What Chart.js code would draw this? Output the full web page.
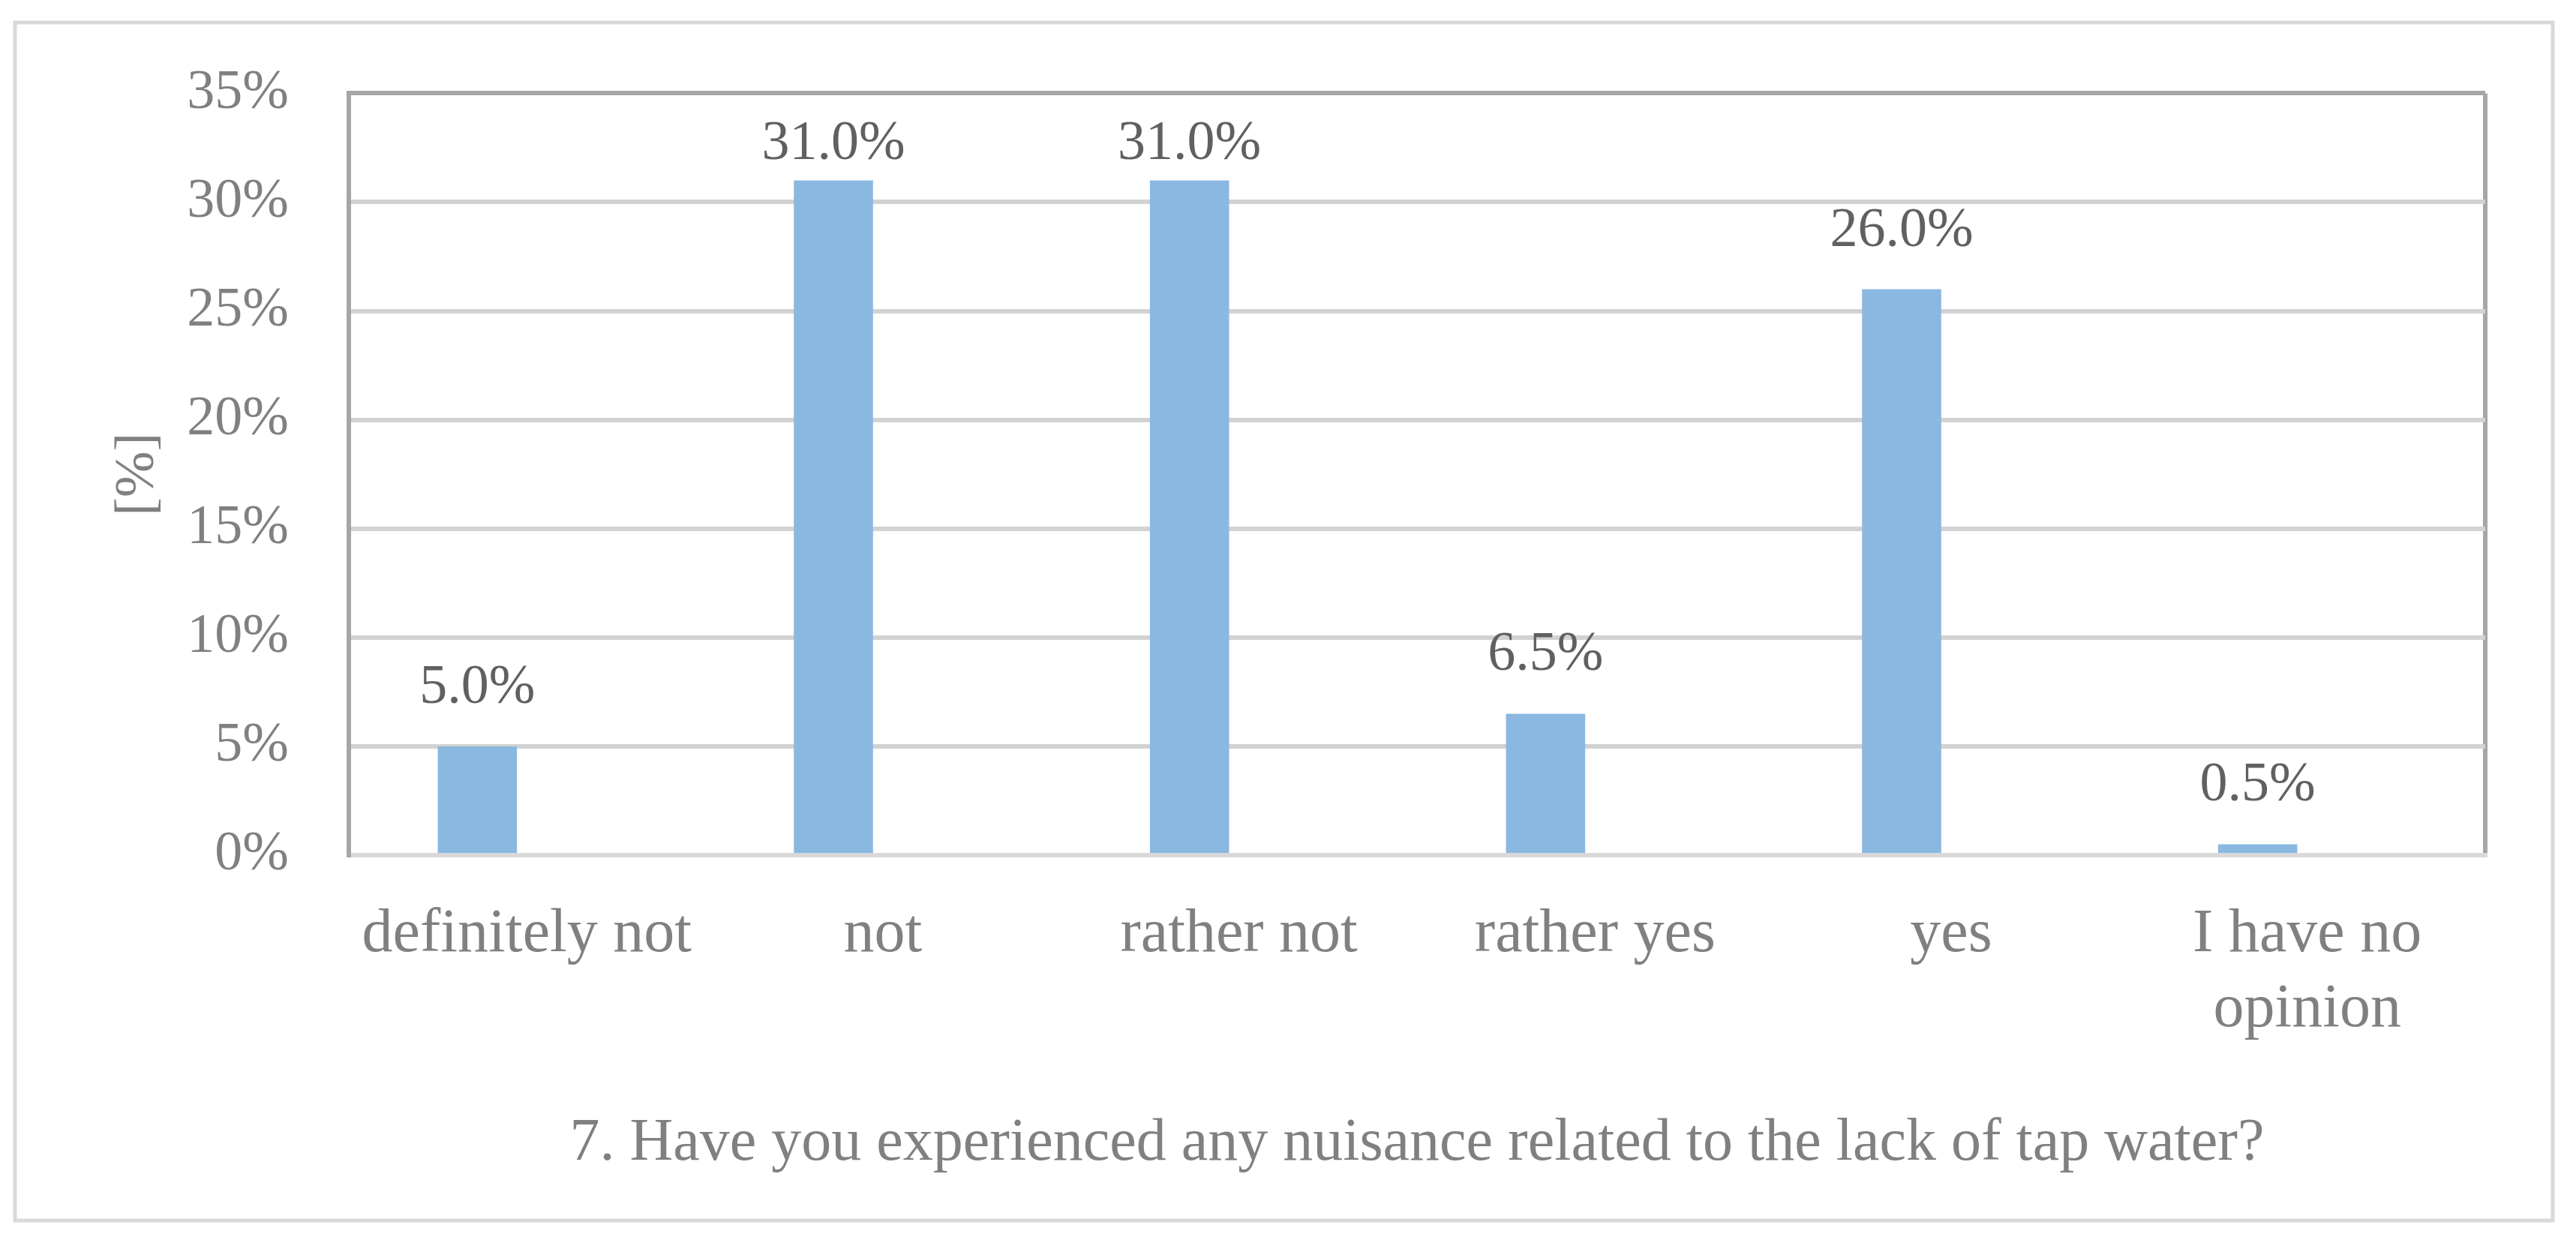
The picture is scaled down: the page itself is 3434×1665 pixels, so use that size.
<!DOCTYPE html>
<html>
<head>
<meta charset="utf-8">
<script src="https://cdn.jsdelivr.net/npm/chart.js@4.4.1/dist/chart.umd.min.js"></script>
<style>
  html, body { margin: 0; padding: 0; background: #fff; }
  canvas { display: block; }
</style>
</head>
<body>
<canvas id="chart" width="3434" height="1665"></canvas>
<script>
const categories = ['definitely not', 'not', 'rather not', 'rather yes', 'yes', ['I have no', 'opinion']]
const answers = [5.0, 31.0, 31.0, 6.5, 26.0, 0.5]
const yTicks = [0, 5, 10, 15, 20, 25, 30, 35]
const xTitle = '7. Have you experienced any nuisance related to the lack of tap water?'
const yTitle = '[%]'

const FONT = "'Liberation Serif', 'Times New Roman', serif"
const GREY = '#808080'

// outer frame around the whole figure
const frame = {
  id: 'frame',
  beforeDraw (chart) {
    const ctx = chart.ctx
    ctx.save()
    ctx.strokeStyle = '#d9d9d9'
    ctx.lineWidth = 5
    ctx.strokeRect(20, 30, 3383, 1597)
    ctx.restore()
  }
}

// value labels above the bars, pushed down near the top of the plot
const valueLabels = {
  id: 'valueLabels',
  afterDatasetsDraw (chart) {
    const ctx = chart.ctx
    const meta = chart.getDatasetMeta(0)
    ctx.save()
    ctx.font = `74px ${FONT}`
    ctx.fillStyle = '#606060'
    ctx.textAlign = 'center'
    ctx.textBaseline = 'alphabetic'
    meta.data.forEach((bar, i) => {
      const y = Math.max(bar.y - 58, chart.chartArea.top + 88)
      ctx.fillText(answers[i].toFixed(1) + '%', bar.x, y)
    })
    ctx.restore()
  }
}

new Chart(document.getElementById('chart'), {
  type: 'bar',
  data: {
    labels: categories,
    datasets: [
      { data: answers, backgroundColor: '#8ab8e0', barPercentage: 0.8, categoryPercentage: 0.556 },
      { data: [], backgroundColor: '#8ab8e0', barPercentage: 0.8, categoryPercentage: 0.556 }
    ]
  },
  options: {
    responsive: false,
    animation: false,
    devicePixelRatio: 1,
    layout: { padding: { top: 122, right: 121, bottom: 0, left: 0 } },
    plugins: { legend: { display: false }, tooltip: { enabled: false } },
    scales: {
      x: {
        afterFit (scale) { scale.height = 525 },
        grid: {
          drawTicks: false,
          lineWidth: 6,
          color: c => c.tick ? 'rgba(0,0,0,0)' : '#a6a6a6'
        },
        border: { color: '#d9d9d9', width: 6 },
        ticks: {
          color: GREY,
          padding: 56,
          maxRotation: 0,
          autoSkip: false,
          font: { family: FONT, size: 82, lineHeight: 1.22 }
        },
        title: {
          display: true,
          text: xTitle,
          color: GREY,
          padding: { top: 0, bottom: 92 },
          font: { family: FONT, size: 80, lineHeight: 1.2 }
        }
      },
      y: {
        min: 0,
        max: 35,
        afterFit (scale) { scale.width = 465 },
        afterBuildTicks (scale) { scale.ticks = yTicks.map(v => ({ value: v })) },
        grid: {
          drawTicks: false,
          lineWidth: 6,
          color: c => c.tick && c.tick.value === 35 ? '#a6a6a6' : '#d2d2d2'
        },
        border: { color: '#a6a6a6', width: 6 },
        ticks: {
          color: GREY,
          padding: 80,
          font: { family: FONT, size: 74 },
          callback: v => v + '%'
        },
        title: {
          display: true,
          text: yTitle,
          color: GREY,
          padding: { top: 140, bottom: 0 },
          font: { family: FONT, size: 74, lineHeight: 1.2 }
        }
      }
    }
  },
  plugins: [frame, valueLabels]
})
</script>
</body>
</html>
